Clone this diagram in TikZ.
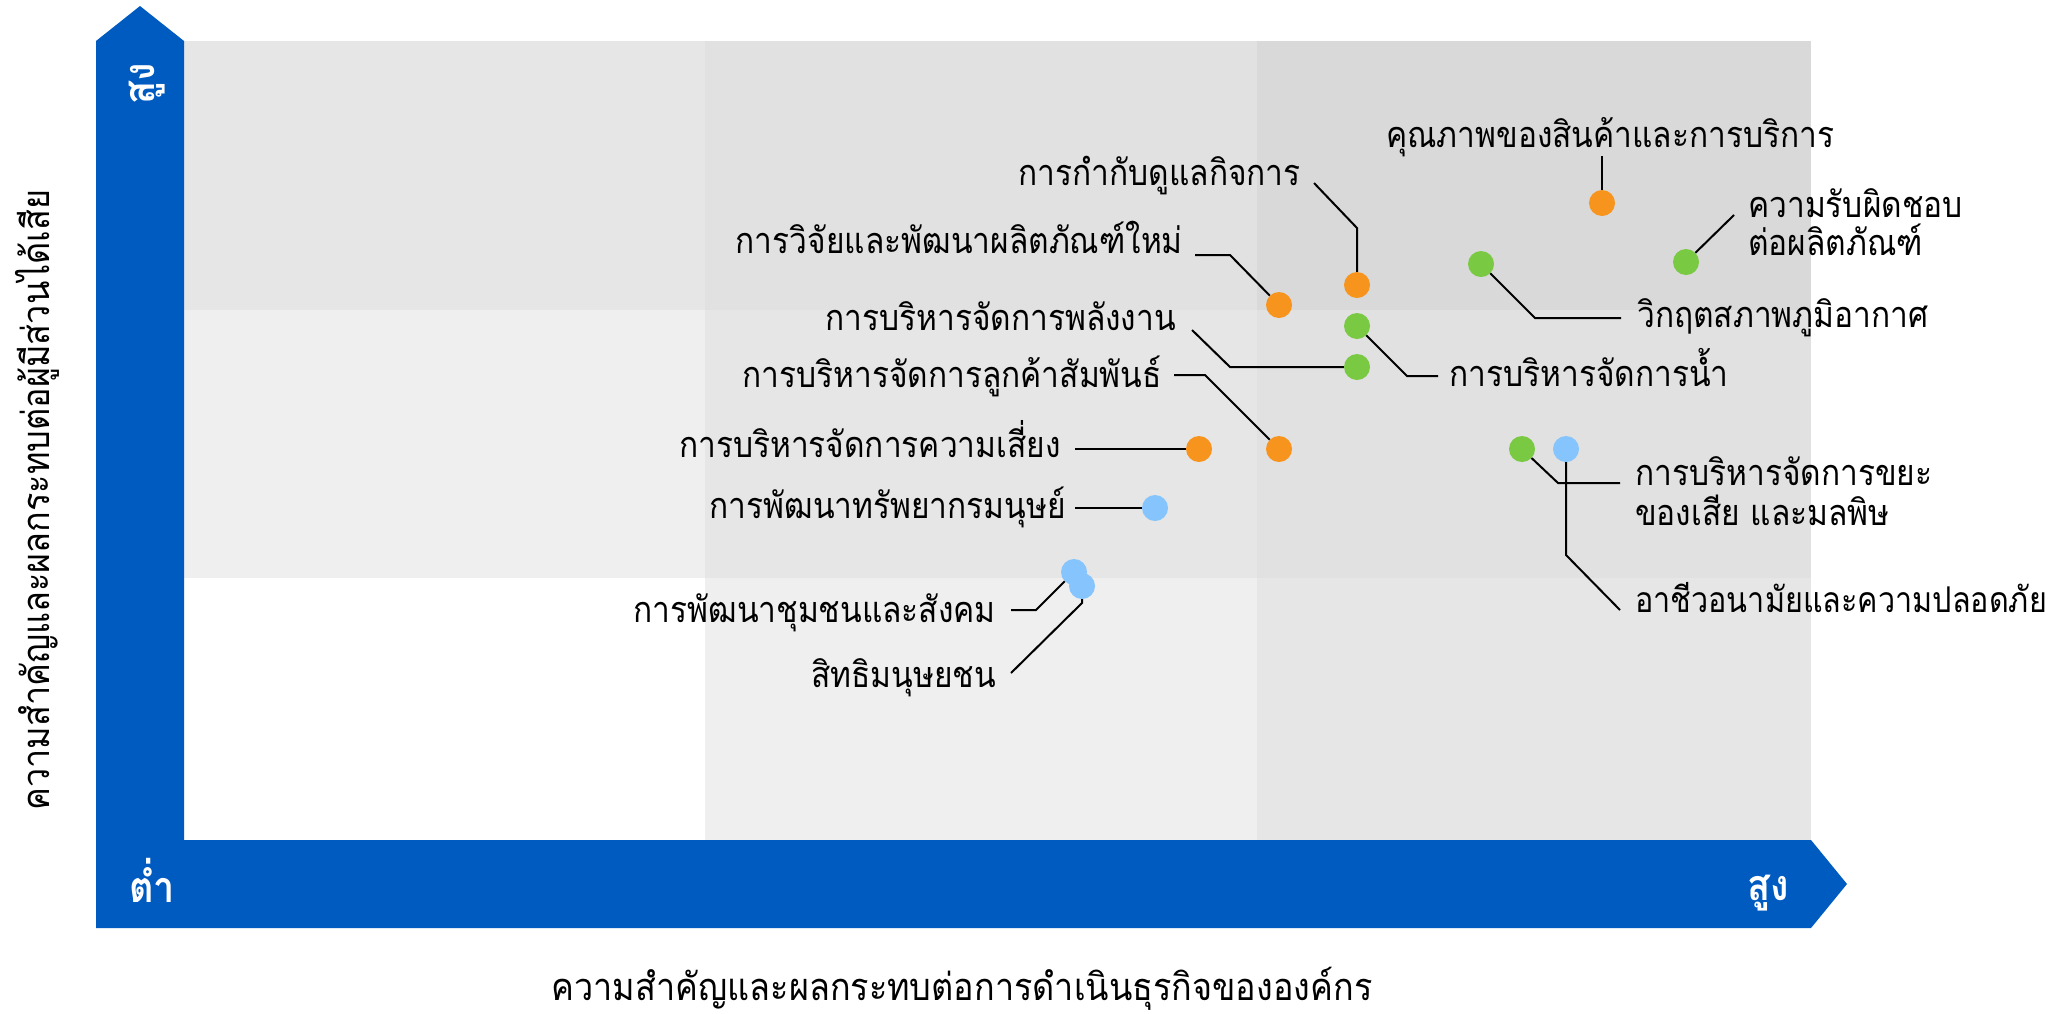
\documentclass[tikz,border=0pt]{standalone}
\usepackage{fontspec}
\newfontfamily\thai[Script=Thai,FakeStretch=0.88]{Loma}
\newfontfamily\thain[Script=Thai,FakeStretch=0.86]{Loma}
\newfontfamily\thaiw[Script=Thai,FakeStretch=0.9]{Loma}
\definecolor{bandblue}{HTML}{005BC1}
\definecolor{dotorange}{HTML}{F7941D}
\definecolor{dotgreen}{HTML}{7AC943}
\definecolor{dotblue}{HTML}{85C4FC}
\definecolor{gA}{HTML}{EFEFEF}
\definecolor{gB}{HTML}{E6E6E6}
\definecolor{gC}{HTML}{E1E1E1}
\definecolor{gD}{HTML}{D9D9D9}
\tikzset{
  odot/.style={circle,fill=dotorange,minimum size=26pt,inner sep=0pt},
  gdot/.style={circle,fill=dotgreen,minimum size=26pt,inner sep=0pt},
  bdot/.style={circle,fill=dotblue,minimum size=26pt,inner sep=0pt},
  lab/.style={inner sep=0pt,text=black},
  axtitle/.style={inner sep=0pt,text=black,font=\thaiw\fontsize{38}{44}\selectfont},
  lnk/.style={draw=black,line width=2pt},
  bandtxt/.style={inner sep=0pt,text=white,font=\thai\bfseries\fontsize{43}{48}\selectfont},
}
\begin{document}
\begin{tikzpicture}[x=1pt,y=-1pt,font=\thai\fontsize{36}{42}\selectfont]
\useasboundingbox (0,0) rectangle (2058,1013);
% grid cells
\fill[gB] (184,41) rectangle (705,310);
\fill[gC] (705,41) rectangle (1257,310);
\fill[gD] (1257,41) rectangle (1811,310);
\fill[gA] (184,310) rectangle (705,578);
\fill[gB] (705,310) rectangle (1257,578);
\fill[gC] (1257,310) rectangle (1811,578);
\fill[white] (184,578) rectangle (705,840);
\fill[gA] (705,578) rectangle (1257,840);
\fill[gB] (1257,578) rectangle (1811,840);
% axis arrow band
\fill[bandblue] (96,928) -- (96,41) -- (140,6) -- (184,41) -- (184,840)
  -- (1811,840) -- (1847,884) -- (1811,928) -- cycle;
\node[bandtxt,rotate=90,anchor=base] (yhi) at (154,84) {สูง};
\node[bandtxt,anchor=base] (xlo) at (152,902) {ต่ำ};
\node[bandtxt,anchor=base] (xhi) at (1768,900) {สูง};
% axis titles
\node[axtitle,anchor=base] (xtitle) at (962,1000) {ความสำคัญและผลกระทบต่อการดำเนินธุรกิจขององค์กร};
\node[axtitle,rotate=90,anchor=base] (ytitle) at (49,500) {ความสำคัญและผลกระทบต่อผู้มีส่วนได้เสีย};
% dots
\node[odot] (o1) at (1357,285) {};
\node[odot] (o2) at (1279,305) {};
\node[gdot] (g3) at (1357,367) {};
\node[odot] (o4) at (1279,449) {};
\node[odot] (o5) at (1199,449) {};
\node[bdot] (b6) at (1155,508) {};
\node[bdot] (b7) at (1074,572) {};
\node[bdot] (b8) at (1082,586) {};
\node[odot] (o9) at (1602,203) {};
\node[gdot] (g10) at (1686,262) {};
\node[gdot] (g11) at (1481,264) {};
\node[gdot] (g12) at (1357,326) {};
\node[gdot] (g13) at (1522,449) {};
\node[bdot] (b14) at (1566,449) {};
% labels left
\node[lab,anchor=base east] (l1) at (1301,185) {การกำกับดูแลกิจการ};
\node[lab,anchor=base east] (l2) at (1183,253) {การวิจัยและพัฒนาผลิตภัณฑ์ใหม่};
\node[lab,anchor=base east] (l3) at (1176,330) {การบริหารจัดการพลังงาน};
\node[lab,anchor=base east] (l4) at (1162,387) {การบริหารจัดการลูกค้าสัมพันธ์};
\node[lab,anchor=base east] (l5) at (1061,457) {การบริหารจัดการความเสี่ยง};
\node[lab,anchor=base east] (l6) at (1066,518) {การพัฒนาทรัพยากรมนุษย์};
\node[lab,anchor=base east] (l7) at (996,622) {การพัฒนาชุมชนและสังคม};
\node[lab,anchor=base east] (l8) at (996,687) {สิทธิมนุษยชน};
% labels right
\node[lab,anchor=base west] (l9) at (1386,147) {คุณภาพของสินค้าและการบริการ};
\node[lab,anchor=base west] (l10a) at (1748,217) {ความรับผิดชอบ};
\node[lab,anchor=base west] (l10b) at (1748,255) {ต่อผลิตภัณฑ์};
\node[lab,anchor=base west] (l11) at (1637,327) {วิกฤตสภาพภูมิอากาศ};
\node[lab,anchor=base west] (l12) at (1449,386) {การบริหารจัดการน้ำ};
\node[lab,anchor=base west] (l13a) at (1635,485) {การบริหารจัดการขยะ};
\node[lab,anchor=base west] (l13b) at (1635,525) {ของเสีย และมลพิษ};
\node[lab,anchor=base west,font=\thain\fontsize{35.5}{42}\selectfont] (l14) at (1635,612) {อาชีวอนามัยและความปลอดภัย};
% connector points
\coordinate (c1s) at (1314,183); \coordinate (c1b) at (1357,228);
\coordinate (c2s) at (1195,255); \coordinate (c2b) at (1230,255);
\coordinate (c3s) at (1192,330); \coordinate (c3b) at (1230,367);
\coordinate (c4s) at (1174,375); \coordinate (c4b) at (1205,375);
\coordinate (c5s) at (1075,449);
\coordinate (c6s) at (1075,508);
\coordinate (c7s) at (1011,610); \coordinate (c7b) at (1036,610);
\coordinate (c8s) at (1011,673); \coordinate (c8b) at (1082,603);
\coordinate (c9e) at (1602,156);
\coordinate (c10e) at (1734,215);
\coordinate (c11b) at (1535,318); \coordinate (c11e) at (1621,318);
\coordinate (c12b) at (1407,376); \coordinate (c12e) at (1438,376);
\coordinate (c13b) at (1558,483); \coordinate (c13e) at (1620,483);
\coordinate (c14b) at (1566,555); \coordinate (c14e) at (1620,610);
% connectors
\draw[lnk] (c1s) -- (c1b) -- (o1);
\draw[lnk] (c2s) -- (c2b) -- (o2);
\draw[lnk] (c3s) -- (c3b) -- (g3);
\draw[lnk] (c4s) -- (c4b) -- (o4);
\draw[lnk] (c5s) -- (o5);
\draw[lnk] (c6s) -- (b6);
\draw[lnk] (c7s) -- (c7b) -- (b7);
\draw[lnk] (c8s) -- (c8b) -- (b8);
\draw[lnk] (o9) -- (c9e);
\draw[lnk] (g10) -- (c10e);
\draw[lnk] (g11) -- (c11b) -- (c11e);
\draw[lnk] (g12) -- (c12b) -- (c12e);
\draw[lnk] (g13) -- (c13b) -- (c13e);
\draw[lnk] (b14) -- (c14b) -- (c14e);
\end{tikzpicture}
\end{document}
